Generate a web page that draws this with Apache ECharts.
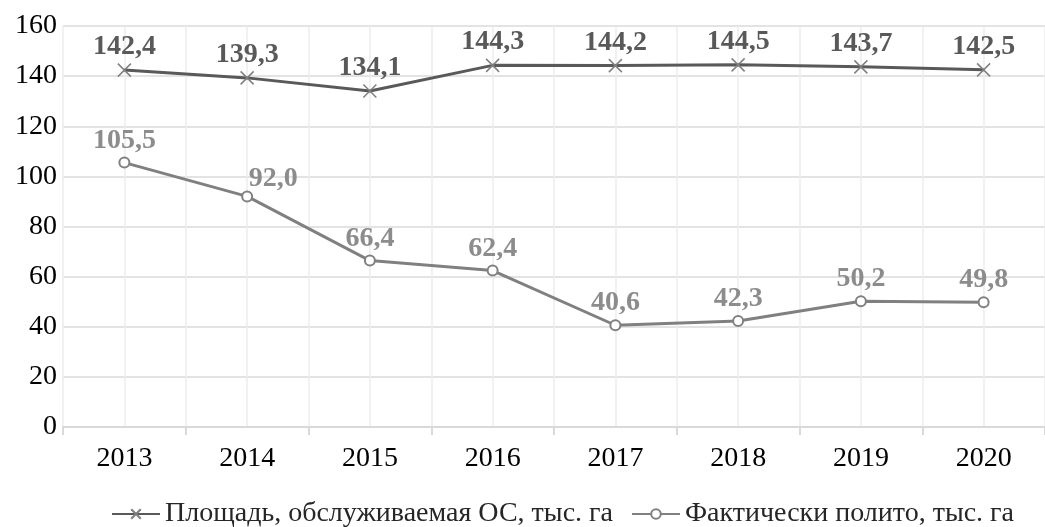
<!DOCTYPE html>
<html>
<head>
<meta charset="utf-8">
<script src="https://cdn.jsdelivr.net/npm/echarts@6/dist/echarts.min.js"></script>
<style>
  html, body { margin: 0; padding: 0; background: #fff; }
  #chart { width: 1045px; height: 527px; }
</style>
</head>
<body>
<div id="chart"></div>
<script>
// years on the x axis
var years = ['2013', '2014', '2015', '2016', '2017', '2018', '2019', '2020'];
// Площадь, обслуживаемая ОС, тыс. га
var servedArea = [142.4, 139.3, 134.1, 144.3, 144.2, 144.5, 143.7, 142.5];
// Фактически полито, тыс. га
var wateredArea = [105.5, 92.0, 66.4, 62.4, 40.6, 42.3, 50.2, 49.8];
var seriesNames = ['Площадь, обслуживаемая ОС, тыс. га', 'Фактически полито, тыс. га'];

// helper axis: two slots per year, only used to draw the vertical grid lines
var halfSlots = [];
years.forEach(function (y) { halfSlots.push(y + 'a', y + 'b'); });

var font = 'Liberation Serif';
function fmt(p) { return p.value.toFixed(1).replace('.', ','); }

var chart = echarts.init(document.getElementById('chart'));

var option = {
  animation: false,
  textStyle: { fontFamily: font },
  grid: { left: 63, right: -10, top: 26, bottom: 100 },
  legend: {
    left: 106,
    top: 495,
    itemWidth: 48,
    itemHeight: 12,
    itemGap: 18,
    textStyle: { fontFamily: font, fontSize: 28, color: '#262626' },
    data: seriesNames
  },
  xAxis: [
    {
      type: 'category',
      data: years,
      boundaryGap: true,
      axisLine: { lineStyle: { color: '#d9d9d9', width: 2 } },
      axisTick: { show: true, length: 8, lineStyle: { color: '#d9d9d9', width: 2 } },
      axisLabel: { fontFamily: font, fontSize: 28, color: '#000', margin: 18 },
      splitLine: { show: false }
    },
    {
      type: 'category',
      data: halfSlots,
      boundaryGap: true,
      position: 'bottom',
      axisLine: { show: false },
      axisTick: { show: false },
      axisLabel: { show: false },
      splitLine: { show: true, interval: 0, lineStyle: { color: '#ececec', width: 1.5 } }
    }
  ],
  yAxis: {
    type: 'value',
    min: 0,
    max: 160,
    interval: 20,
    axisLine: { show: false },
    axisTick: { show: false },
    axisLabel: { fontFamily: font, fontSize: 28, color: '#000', margin: 6 },
    splitLine: { lineStyle: { color: '#e3e3e3', width: 2 } }
  },
  series: [
    {
      name: seriesNames[0],
      type: 'line',
      data: servedArea,
      symbol: 'path://M0,0L10,10M10,0L0,10',
      symbolSize: 13,
      showAllSymbol: true,
      lineStyle: { color: '#595959', width: 3 },
      itemStyle: { color: '#595959', borderColor: '#7f7f7f', borderWidth: 1.5 },
      label: {
        show: true,
        position: 'top',
        distance: 2,
        formatter: fmt,
        fontFamily: font,
        fontSize: 28,
        fontWeight: 'bold',
        color: '#595959'
      },
      z: 3
    },
    {
      name: seriesNames[1],
      type: 'line',
      data: wateredArea.map(function (v, i) {
        return i === 1 ? { value: v, label: { offset: [26, 4] } } : v;
      }),
      symbol: 'emptyCircle',
      symbolSize: 10,
      showAllSymbol: true,
      lineStyle: { color: '#808080', width: 3 },
      itemStyle: { color: '#808080', borderColor: '#808080', borderWidth: 1.5 },
      label: {
        show: true,
        position: 'top',
        distance: 2,
        formatter: fmt,
        fontFamily: font,
        fontSize: 28,
        fontWeight: 'bold',
        color: '#8c8c8c'
      },
      z: 3
    }
  ]
};

chart.setOption(option);
</script>
</body>
</html>
